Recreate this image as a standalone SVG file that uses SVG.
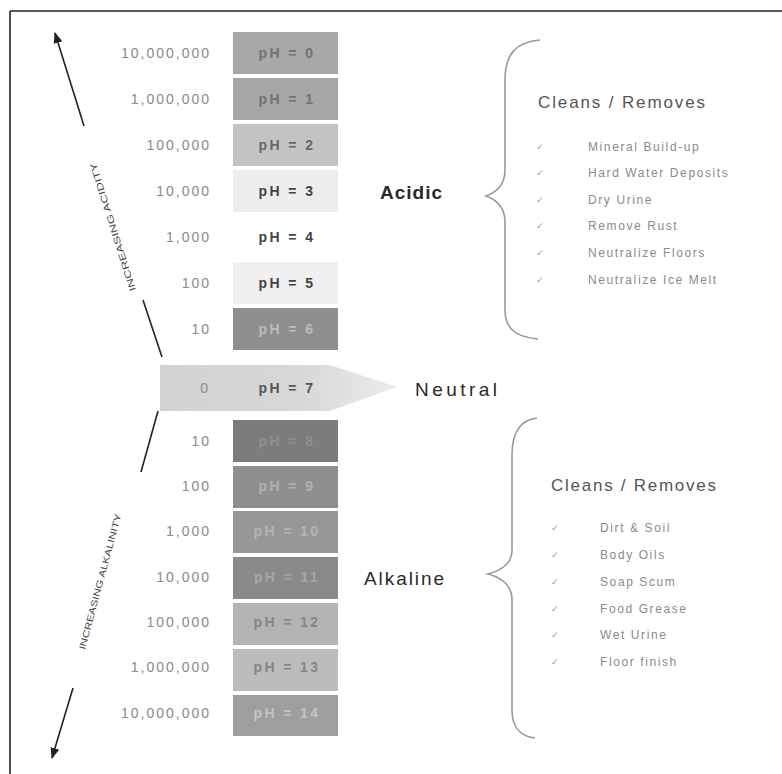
<svg xmlns="http://www.w3.org/2000/svg" width="782" height="774" viewBox="0 0 782 774">
<defs>
<style>
.num{font-family:"Liberation Sans",Arial,sans-serif;font-size:14px;fill:#8a8a8a;letter-spacing:2px;text-anchor:end}
.ph{font-family:"Liberation Sans",Arial,sans-serif;font-size:14px;font-weight:bold;letter-spacing:2.4px;text-anchor:middle}
.big{font-family:"Liberation Sans",Arial,sans-serif;font-size:19px;fill:#2a2a2a}
.hdr{font-family:"Liberation Sans",Arial,sans-serif;font-size:17px;fill:#555;letter-spacing:1px}
.item{font-family:"Liberation Sans",Arial,sans-serif;font-size:12px;fill:#8a8a8a;letter-spacing:1.6px}
.chk{font-family:"DejaVu Sans",sans-serif;font-size:9px;fill:#999}
.rot{font-family:"Liberation Sans",Arial,sans-serif;font-size:9px;fill:#444}
.line{stroke:#222;stroke-width:1.6;fill:none}
.brace{stroke:#9a9a9a;stroke-width:1.6;fill:none}
</style>
<marker id="ah" viewBox="0 0 10 10" refX="9" refY="5" markerWidth="7" markerHeight="7" orient="auto">
<path d="M0,1 L10,5 L0,9 Z" fill="#222"/>
</marker>
<linearGradient id="ng" x1="0" y1="0" x2="1" y2="0">
<stop offset="0" stop-color="#d2d2d2"/>
<stop offset="0.6" stop-color="#d8d8d8"/>
<stop offset="1" stop-color="#ececec"/>
</linearGradient>
</defs>
<rect width="782" height="774" fill="#fff"/>
<g id="frame">
<line x1="10" y1="11" x2="782" y2="11" stroke="#222" stroke-width="1.6"/>
<line x1="10" y1="11" x2="10" y2="774" stroke="#222" stroke-width="1.6"/>
</g>

<g id="connectors">
<line class="line" x1="84" y1="126" x2="55" y2="33" marker-end="url(#ah)"/>
<line class="line" x1="143" y1="300" x2="162" y2="357"/>
<line class="line" x1="158" y1="411" x2="141" y2="472"/>
<line class="line" x1="73" y1="688" x2="52" y2="758" marker-end="url(#ah)"/>
<path class="brace" d="M540,40 C515,42 505,55 505,80 L505,170 C505,185 497,192 486,196 C497,200 505,207 505,222 L505,310 C505,328 515,337 538,339"/>
<path class="brace" d="M537,418 C520,420 512,432 512,455 L512,550 C512,563 503,570 488,574 C503,578 512,586 512,600 L512,710 C512,728 520,736 535,738"/>
</g>

<g id="axis-labels">
<text class="rot" transform="translate(136,290) rotate(-107.5)" textLength="134" lengthAdjust="spacingAndGlyphs">INCREASING ACIDITY</text>
<text class="rot" transform="translate(85,650) rotate(-75)" textLength="140" lengthAdjust="spacingAndGlyphs">INCREASING ALKALINITY</text>
</g>

<g id="ph0"><rect x="233" y="32" width="105" height="42" fill="#a8a8a8"/><text class="ph" x="287" y="58" fill="#727272">pH = 0</text><text class="num" x="211" y="58">10,000,000</text></g>
<g id="ph1"><rect x="233" y="78" width="105" height="42" fill="#a6a6a6"/><text class="ph" x="287" y="104" fill="#727272">pH = 1</text><text class="num" x="211" y="104">1,000,000</text></g>
<g id="ph2"><rect x="233" y="124" width="105" height="42" fill="#c3c3c3"/><text class="ph" x="287" y="150" fill="#666">pH = 2</text><text class="num" x="211" y="150">100,000</text></g>
<g id="ph3"><rect x="233" y="170" width="105" height="42" fill="#ededed"/><text class="ph" x="287" y="196" fill="#444">pH = 3</text><text class="num" x="211" y="196">10,000</text></g>
<g id="ph4"><text class="ph" x="287" y="242" fill="#444">pH = 4</text><text class="num" x="211" y="242">1,000</text></g>
<g id="ph5"><rect x="233" y="262" width="105" height="42" fill="#f0f0f0"/><text class="ph" x="287" y="288" fill="#444">pH = 5</text><text class="num" x="211" y="288">100</text></g>
<g id="ph6"><rect x="233" y="308" width="105" height="42" fill="#8e8e8e"/><text class="ph" x="287" y="334" fill="#bcbcbc">pH = 6</text><text class="num" x="211" y="334">10</text></g>
<g id="ph7"><path d="M160,365 L330,365 L397,387 L330,411 L160,411 Z" fill="url(#ng)"/><text class="ph" x="287" y="393" fill="#555">pH = 7</text><text class="num" x="210" y="393">0</text></g>
<g id="ph8"><rect x="233" y="420" width="105" height="42" fill="#7c7c7c"/><text class="ph" x="287" y="446" fill="#8e8e8e">pH = 8</text><text class="num" x="211" y="446">10</text></g>
<g id="ph9"><rect x="233" y="466" width="105" height="42" fill="#8f8f8f"/><text class="ph" x="287" y="491" fill="#b2b2b2">pH = 9</text><text class="num" x="211" y="491">100</text></g>
<g id="ph10"><rect x="233" y="511" width="105" height="42" fill="#979797"/><text class="ph" x="287" y="536" fill="#b4b4b4">pH = 10</text><text class="num" x="211" y="536">1,000</text></g>
<g id="ph11"><rect x="233" y="557" width="105" height="42" fill="#8a8a8a"/><text class="ph" x="287" y="582" fill="#a6a6a6">pH = 11</text><text class="num" x="211" y="582">10,000</text></g>
<g id="ph12"><rect x="233" y="603" width="105" height="42" fill="#b3b3b3"/><text class="ph" x="287" y="627" fill="#858585">pH = 12</text><text class="num" x="211" y="627">100,000</text></g>
<g id="ph13"><rect x="233" y="649" width="105" height="42" fill="#bcbcbc"/><text class="ph" x="287" y="672" fill="#858585">pH = 13</text><text class="num" x="211" y="672">1,000,000</text></g>
<g id="ph14"><rect x="233" y="695" width="105" height="41" fill="#9e9e9e"/><text class="ph" x="287" y="718" fill="#c4c4c4">pH = 14</text><text class="num" x="211" y="718">10,000,000</text></g>

<g id="acidic"><text class="big" x="380" y="199" font-weight="bold" letter-spacing="1">Acidic</text></g>
<g id="neutral"><text class="big" x="415" y="396" textLength="82">Neutral</text></g>
<g id="alkaline"><text class="big" x="364" y="585" textLength="80">Alkaline</text></g>

<g id="acid-list">
<text class="hdr" x="538" y="108" textLength="168">Cleans / Removes</text>
<text class="chk" x="536" y="150">✓</text><text class="item" x="588" y="151">Mineral Build-up</text>
<text class="chk" x="536" y="176">✓</text><text class="item" x="588" y="177">Hard Water Deposits</text>
<text class="chk" x="536" y="203">✓</text><text class="item" x="588" y="204">Dry Urine</text>
<text class="chk" x="536" y="229">✓</text><text class="item" x="588" y="230">Remove Rust</text>
<text class="chk" x="536" y="256">✓</text><text class="item" x="588" y="257">Neutralize Floors</text>
<text class="chk" x="536" y="283">✓</text><text class="item" x="588" y="284">Neutralize Ice Melt</text>
</g>

<g id="alkaline-list">
<text class="hdr" x="551" y="491" textLength="166">Cleans / Removes</text>
<text class="chk" x="551" y="531">✓</text><text class="item" x="600" y="532">Dirt &amp; Soil</text>
<text class="chk" x="551" y="558">✓</text><text class="item" x="600" y="559">Body Oils</text>
<text class="chk" x="551" y="585">✓</text><text class="item" x="600" y="586">Soap Scum</text>
<text class="chk" x="551" y="612">✓</text><text class="item" x="600" y="613">Food Grease</text>
<text class="chk" x="551" y="638">✓</text><text class="item" x="600" y="639">Wet Urine</text>
<text class="chk" x="551" y="665">✓</text><text class="item" x="600" y="666">Floor finish</text>
</g>
</svg>
